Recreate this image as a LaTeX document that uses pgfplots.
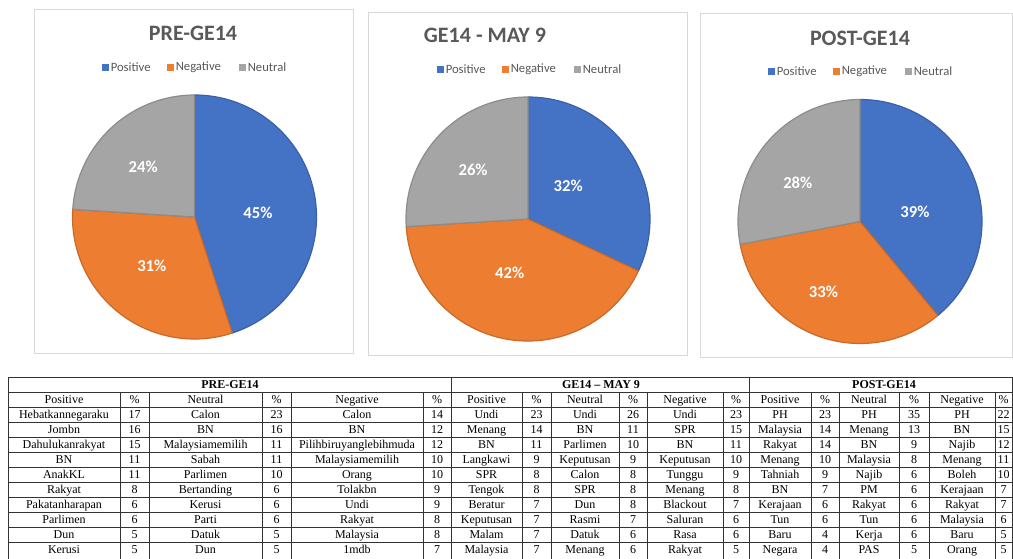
\documentclass[border=0pt]{standalone}
\usepackage{pgfplots}
\pgfplotsset{compat=1.18}
\usepackage{fontspec}
\setmainfont{Liberation Serif}
\newfontfamily\calibri{Carlito}
\definecolor{cblue}{HTML}{4472C4}
\definecolor{corange}{HTML}{ED7D31}
\definecolor{cgray}{HTML}{A5A5A5}
\definecolor{ctitle}{HTML}{595959}
\definecolor{cframe}{HTML}{D9D9D9}
\newcommand\R{91.5pt}
\pgfplotsset{pieaxis/.style={anchor=center, width=183pt, height=183pt, scale only axis, hide axis,
  xmin=-1, xmax=1, ymin=-1, ymax=1, clip=false}}
\tikzset{plab/.style={font=\calibri\bfseries\fontsize{12.5}{14}\selectfont, text=white, inner sep=0pt},
  sl/.style={line width=0.9pt, line join=round}}
% #1 positive, #2 negative, #3 neutral, then label positions
\newcommand\pieslices[9]{%
  \fill[cblue, draw=cblue!85!black, sl] (axis cs:0,0) -- (axis cs:0,1) arc[start angle=90, end angle={90-3.6*#1}, radius=\R] -- cycle;
  \fill[corange, draw=corange!85!black, sl] (axis cs:0,0) -- (axis cs:{cos(90-3.6*#1)},{sin(90-3.6*#1)}) arc[start angle={90-3.6*#1}, end angle={90-3.6*(#1+#2)}, radius=\R] -- cycle;
  \fill[cgray, draw=cgray!85!black, sl] (axis cs:0,0) -- (axis cs:{cos(90-3.6*(#1+#2))},{sin(90-3.6*(#1+#2))}) arc[start angle={90-3.6*(#1+#2)}, end angle=-270, radius=\R] -- cycle;
  \node[plab] at (axis cs:#4,#5) {#1\%};
  \node[plab] at (axis cs:#6,#7) {#2\%};
  \node[plab] at (axis cs:#8,#9) {#3\%};
}
\tikzset{leg/.style={font=\calibri\fontsize{9.5}{11}\selectfont, text=ctitle, inner sep=0pt, anchor=west},
  ptitle/.style={font=\calibri\bfseries\fontsize{16.5}{19}\selectfont, text=ctitle, inner sep=0pt},
  tcell/.style={font=\fontsize{9}{10}\selectfont, inner sep=0pt, text height=1.55ex, text depth=0.35ex}}
\newcommand\pielegend[2]{%
  \fill[cblue] ({#1-92.5},{#2-3.5}) rectangle ++(7,7);
  \node[leg] at ({#1-92.5+8.5},#2) {Positive};
  \fill[corange] ({#1-92.5+65},{#2-3.5}) rectangle ++(7,7);
  \node[leg] at ({#1-92.5+73.5},#2) {Negative};
  \fill[cgray] ({#1-92.5+137},{#2-3.5}) rectangle ++(7,7);
  \node[leg] at ({#1-92.5+145.5},#2) {Neutral};
}
\def\colx{{64,134.5,205.5,276.5,357,437,486.5,536.5,585,633,685,736,780,825,869,914,962,1003.5}}
\begin{document}
\begin{tikzpicture}[x=0.75pt, y=-0.75pt]
\useasboundingbox (0,0) rectangle (1013,558);
\clip (0,0) rectangle (1013,558);
\fill[white] (0,0) rectangle (1013,558);
% panels
\draw[cframe, line width=0.75pt] (34,9) rectangle (353,353);
\draw[cframe, line width=0.75pt] (368,12) rectangle (687,355);
\draw[cframe, line width=0.75pt] (700,13) rectangle (1012,357);
% titles
\node[ptitle] at (193,33) {PRE-GE14};
\node[ptitle] at (485,35) {GE14 - MAY 9};
\node[ptitle] at (860,38) {POST-GE14};
\pielegend{194.5}{67}
\pielegend{529.5}{69}
\pielegend{860.5}{71}
\coordinate (c1) at (194.5,217);
\coordinate (c2) at (528,219);
\coordinate (c3) at (860,221.5);
% pies
\begin{axis}[pieaxis, at={(c1)}]
\pieslices{45}{31}{24}{0.52}{0.035}{-0.35}{-0.40}{-0.42}{0.41}
\end{axis}
\begin{axis}[pieaxis, at={(c2)}]
\pieslices{32}{42}{26}{0.33}{0.27}{-0.15}{-0.44}{-0.45}{0.40}
\end{axis}
\begin{axis}[pieaxis, at={(c3)}]
\pieslices{39}{33}{28}{0.45}{0.08}{-0.30}{-0.58}{-0.51}{0.32}
\end{axis}
% table
\begin{scope}[draw=black!80, line width=0.6pt]
\foreach \yy in {377,392,407,422,437,452,467,482,497,512,527,542} \draw (8,\yy) -- (1012.5,\yy);
\foreach \xx in {8,451,749,1012.5} \draw (\xx,377) -- (\xx,560);
\foreach \xx in {120,149,262,291,423,522,551,619,647,723,811,839,899,929,995} \draw (\xx,392) -- (\xx,560);
\end{scope}
\node[tcell, font=\fontsize{9}{10}\selectfont\bfseries] at (230,384.5) {PRE-GE14};
\node[tcell, font=\fontsize{9}{10}\selectfont\bfseries] at (601,384.5) {GE14 – MAY 9};
\node[tcell, font=\fontsize{9}{10}\selectfont\bfseries] at (884,384.5) {POST-GE14};
\foreach \row [count=\r from 0] in {{Positive,\%,Neutral,\%,Negative,\%,Positive,\%,Neutral,\%,Negative,\%,Positive,\%,Neutral,\%,Negative,\%},{Hebatkannegaraku,17,Calon,23,Calon,14,Undi,23,Undi,26,Undi,23,PH,23,PH,35,PH,22},{Jombn,16,BN,16,BN,12,Menang,14,BN,11,SPR,15,Malaysia,14,Menang,13,BN,15},{Dahulukanrakyat,15,Malaysiamemilih,11,Pilihbiruyanglebihmuda,12,BN,11,Parlimen,10,BN,11,Rakyat,14,BN,9,Najib,12},{BN,11,Sabah,11,Malaysiamemilih,10,Langkawi,9,Keputusan,9,Keputusan,10,Menang,10,Malaysia,8,Menang,11},{AnakKL,11,Parlimen,10,Orang,10,SPR,8,Calon,8,Tunggu,9,Tahniah,9,Najib,6,Boleh,10},{Rakyat,8,Bertanding,6,Tolakbn,9,Tengok,8,SPR,8,Menang,8,BN,7,PM,6,Kerajaan,7},{Pakatanharapan,6,Kerusi,6,Undi,9,Beratur,7,Dun,8,Blackout,7,Kerajaan,6,Rakyat,6,Rakyat,7},{Parlimen,6,Parti,6,Rakyat,8,Keputusan,7,Rasmi,7,Saluran,6,Tun,6,Tun,6,Malaysia,6},{Dun,5,Datuk,5,Malaysia,8,Malam,7,Datuk,6,Rasa,6,Baru,4,Kerja,6,Baru,5},{Kerusi,5,Dun,5,1mdb,7,Malaysia,7,Menang,6,Rakyat,5,Negara,4,PAS,5,Orang,5}}{%
  \foreach \t [count=\c from 0] in \row {%
    \pgfmathsetmacro\xx{\colx[\c]}%
    \node[tcell] at (\xx,{399.5+15*\r}) {\t};
  }%
}
\end{tikzpicture}
\end{document}
